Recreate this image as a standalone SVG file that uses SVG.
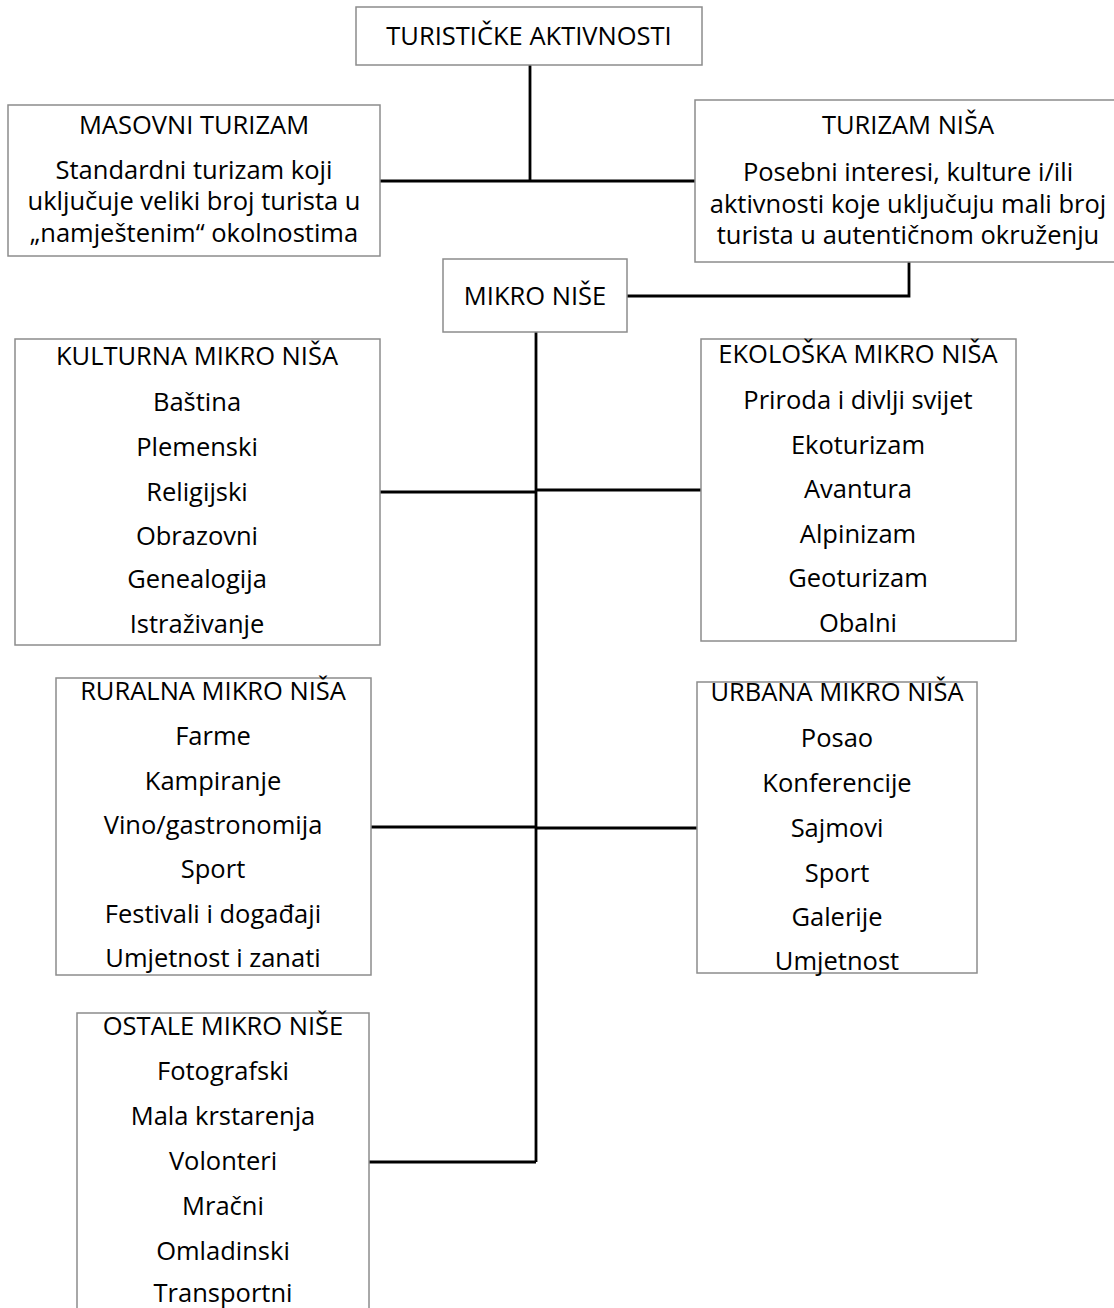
<svg xmlns="http://www.w3.org/2000/svg" width="1114" height="1308" viewBox="0 0 1114 1308">
<style>
.box{fill:#fff;stroke:#8c8c8c;stroke-width:1.5}
text{font-family:"Open Sans","Liberation Sans",sans-serif;font-size:25.5px;fill:#000;text-anchor:middle}
.conn{fill:none;stroke:#000;stroke-width:2.8}
</style>
<rect width="1114" height="1308" fill="#fff"/>
<g id="connectors" class="conn">
<path d="M530 65 V181 M380 181 H695"/>
<path d="M909 262 V296 H627"/>
<path d="M536 332 V1162"/>
<path d="M380 492 H536 M536 490 H701"/>
<path d="M371 827 H536 M536 828 H697"/>
<path d="M369 1162 H536"/>
</g>
<g id="turisticke">
<rect class="box" x="356" y="7" width="346" height="58"/>
<text x="529" y="45">TURISTIČKE AKTIVNOSTI</text>
</g>
<g id="masovni">
<rect class="box" x="8" y="105" width="372" height="151"/>
<text x="194" y="134">MASOVNI TURIZAM</text>
<text x="194" y="179">Standardni turizam koji</text>
<text x="194" y="210">uključuje veliki broj turista u</text>
<text x="194" y="242">„namještenim“ okolnostima</text>
</g>
<g id="nisa">
<rect class="box" x="695" y="100" width="430" height="162"/>
<text x="908" y="134">TURIZAM NIŠA</text>
<text x="908" y="181">Posebni interesi, kulture i/ili</text>
<text x="908" y="213">aktivnosti koje uključuju mali broj</text>
<text x="908" y="244">turista u autentičnom okruženju</text>
</g>
<g id="mikro">
<rect class="box" x="443" y="259" width="184" height="73"/>
<text x="535" y="305">MIKRO NIŠE</text>
</g>
<g id="kulturna">
<rect class="box" x="15" y="339" width="365" height="306"/>
<text x="197" y="365">KULTURNA MIKRO NIŠA</text>
<text x="197" y="411">Baština</text>
<text x="197" y="456">Plemenski</text>
<text x="197" y="501">Religijski</text>
<text x="197" y="545">Obrazovni</text>
<text x="197" y="588">Genealogija</text>
<text x="197" y="633">Istraživanje</text>
</g>
<g id="ekoloska">
<rect class="box" x="701" y="339" width="315" height="302"/>
<text x="858" y="363">EKOLOŠKA MIKRO NIŠA</text>
<text x="858" y="409">Priroda i divlji svijet</text>
<text x="858" y="454">Ekoturizam</text>
<text x="858" y="498">Avantura</text>
<text x="858" y="543">Alpinizam</text>
<text x="858" y="587">Geoturizam</text>
<text x="858" y="632">Obalni</text>
</g>
<g id="ruralna">
<rect class="box" x="56" y="678" width="315" height="297"/>
<text x="213" y="700">RURALNA MIKRO NIŠA</text>
<text x="213" y="745">Farme</text>
<text x="213" y="790">Kampiranje</text>
<text x="213" y="834">Vino/gastronomija</text>
<text x="213" y="878">Sport</text>
<text x="213" y="923">Festivali i događaji</text>
<text x="213" y="967">Umjetnost i zanati</text>
</g>
<g id="urbana">
<rect class="box" x="697" y="682" width="280" height="291"/>
<text x="837" y="701">URBANA MIKRO NIŠA</text>
<text x="837" y="747">Posao</text>
<text x="837" y="792">Konferencije</text>
<text x="837" y="837">Sajmovi</text>
<text x="837" y="882">Sport</text>
<text x="837" y="926">Galerije</text>
<text x="837" y="970">Umjetnost</text>
</g>
<g id="ostale">
<rect class="box" x="77" y="1013" width="292" height="310"/>
<text x="223" y="1035">OSTALE MIKRO NIŠE</text>
<text x="223" y="1080">Fotografski</text>
<text x="223" y="1125">Mala krstarenja</text>
<text x="223" y="1170">Volonteri</text>
<text x="223" y="1215">Mračni</text>
<text x="223" y="1260">Omladinski</text>
<text x="223" y="1302">Transportni</text>
</g>
</svg>
